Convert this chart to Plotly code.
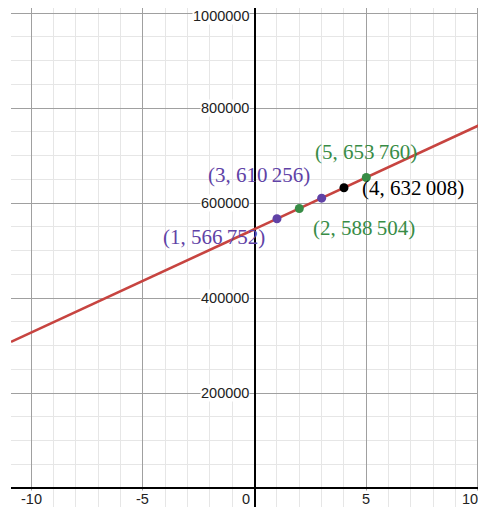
import numpy as np
import plotly.graph_objects as go

# Data
point_x = [1, 2, 3, 4, 5]
point_y = [566752, 588504, 610256, 632008, 653760]
point_labels = ["(1, 566\u2009752)", "(2, 588\u2009504)", "(3, 610\u2009256)",
                "(4, 632\u2009008)", "(5, 653\u2009760)"]
point_colors = ["#6042a6", "#388c46", "#6042a6", "#000000", "#388c46"]

x_tick_vals = [-10, -5, 0, 5, 10]
x_tick_text = ["-10", "-5", "0", "5", "10"]
y_tick_vals = [200000, 400000, 600000, 800000, 1000000]
y_tick_text = ["200000", "400000", "600000", "800000", "1000000"]

x_range = [-10.91, 10.36]
y_range = [-40000, 1010540]

# regression line through the points
slope, intercept = np.polyfit(point_x, point_y, 1)
line_x = np.array(x_range)
line_y = intercept + slope * line_x

fig = go.Figure()
fig.add_trace(go.Scatter(x=line_x, y=line_y, mode="lines",
                         line=dict(color="#c74440", width=2.6),
                         hoverinfo="skip", showlegend=False))
fig.add_trace(go.Scatter(x=point_x, y=point_y, mode="markers",
                         marker=dict(color=point_colors, size=9),
                         showlegend=False))

# label offsets (style)
label_pos = [
    dict(xanchor="right", yanchor="middle", xshift=-10, yshift=-18),
    dict(xanchor="left", yanchor="middle", xshift=12, yshift=-20),
    dict(xanchor="right", yanchor="middle", xshift=-10, yshift=23),
    dict(xanchor="left", yanchor="middle", xshift=16, yshift=0),
    dict(xanchor="center", yanchor="middle", xshift=0, yshift=25),
]
for xv, yv, t, c, p in zip(point_x, point_y, point_labels, point_colors, label_pos):
    fig.add_annotation(x=xv, y=yv, xref="x", yref="y", text=t, showarrow=False,
                       font=dict(family="Liberation Serif", size=21, color=c), **p)

tick_font = dict(family="Liberation Sans, Arial", size=14.5, color="#222222")
for v, t in zip(x_tick_vals, x_tick_text):
    if v == 0:
        anchor, shift = "right", -4
    elif v == max(x_tick_vals):
        anchor, shift = "right", 1
    else:
        anchor, shift = "center", 0
    fig.add_annotation(x=v, y=0, xref="x", yref="y", text=t, showarrow=False,
                       xanchor=anchor, yanchor="top", xshift=shift, yshift=-2,
                       font=tick_font, bgcolor="white", borderpad=0)
for v, t in zip(y_tick_vals, y_tick_text):
    fig.add_annotation(x=0, y=v, xref="x", yref="y", text=t, showarrow=False,
                       xanchor="right", yanchor="middle", xshift=-5,
                       yshift=-3 if v == max(y_tick_vals) else 0,
                       font=tick_font, bgcolor="white", borderpad=0)

fig.update_xaxes(range=x_range, dtick=5, tick0=0, showticklabels=False,
                 showgrid=True, gridcolor="#a0a0a0", gridwidth=1,
                 minor=dict(dtick=1, showgrid=True, gridcolor="#e6e6e6", gridwidth=1),
                 zeroline=True, zerolinecolor="#000000", zerolinewidth=2,
                 showline=False, fixedrange=True)
fig.update_yaxes(range=y_range, dtick=200000, tick0=0, showticklabels=False,
                 showgrid=True, gridcolor="#a0a0a0", gridwidth=1,
                 minor=dict(dtick=50000, showgrid=True, gridcolor="#e6e6e6", gridwidth=1),
                 zeroline=True, zerolinecolor="#000000", zerolinewidth=2,
                 showline=False, fixedrange=True)

fig.update_layout(width=494, height=499, margin=dict(l=3, r=16, t=0, b=0),
                  plot_bgcolor="white", paper_bgcolor="white", showlegend=False)

fig.write_html("out.html")
